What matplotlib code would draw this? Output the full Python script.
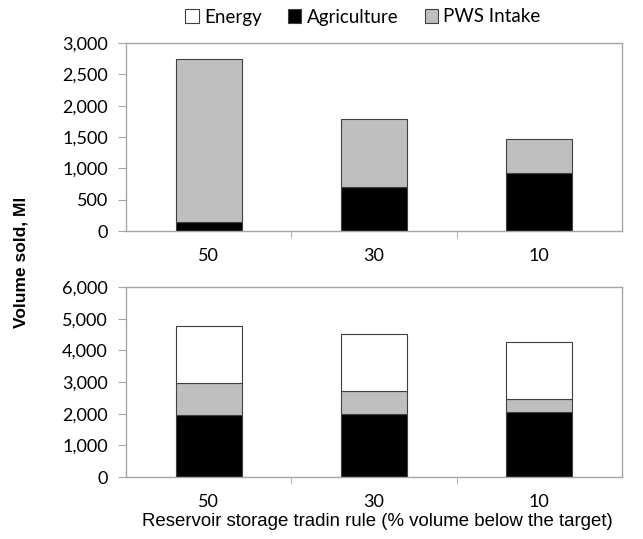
import matplotlib
matplotlib.use('Agg')
import numpy as np
import matplotlib.pyplot as plt
from matplotlib.patches import Patch
from matplotlib.ticker import FuncFormatter

rules = ['50', '30', '10']
# top panel
agri_top = [150, 710, 930]
pws_top = [2600, 1070, 540]
# bottom panel
agri_bot = [1950, 2000, 2040]
pws_bot = [1010, 720, 410]
energy_bot = [1810, 1800, 1810]

plt.rcParams['font.family'] = ['Lato', 'DejaVu Sans']

fig = plt.figure(figsize=(6.43, 5.39), dpi=100)
ax1 = fig.add_axes([126/643, 1 - 231/539, 496/643, 188/539])
ax2 = fig.add_axes([126/643, 1 - 477/539, 496/643, 190/539])

edge = '#404040'
grey = '#bfbfbf'
spine_c = '#a6a6a6'
x = np.arange(len(rules))
w = 0.4

ax1.bar(x, agri_top, w, color='black', edgecolor=edge, lw=0.8)
ax1.bar(x, pws_top, w, bottom=agri_top, color=grey, edgecolor=edge, lw=0.8)

b2 = np.array(agri_bot) + np.array(pws_bot)
ax2.bar(x, agri_bot, w, color='black', edgecolor=edge, lw=0.8)
ax2.bar(x, pws_bot, w, bottom=agri_bot, color=grey, edgecolor=edge, lw=0.8)
ax2.bar(x, energy_bot, w, bottom=b2, color='white', edgecolor=edge, lw=0.8)

fmt = FuncFormatter(lambda v, p: f'{int(v):,}')
for ax, top, step in [(ax1, 3000, 500), (ax2, 6000, 1000)]:
    ax.set_xlim(-0.5, 2.5)
    ax.set_ylim(0, top)
    ax.set_yticks(np.arange(0, top + 1, step))
    ax.yaxis.set_major_formatter(fmt)
    ax.set_xticks(x)
    ax.set_xticklabels(rules)
    ax.set_xticks([0.5, 1.5], minor=True)
    ax.tick_params(axis='x', which='major', length=0, pad=12, labelsize=13)
    ax.tick_params(axis='x', which='minor', length=5, color=spine_c, direction='out')
    ax.tick_params(axis='y', length=6, color=spine_c, direction='out', labelsize=13, pad=7)
    for s in ax.spines.values():
        s.set_color(spine_c)
        s.set_linewidth(1)

fig.text(21/643, 1 - 262/539, 'Volume sold, Ml', rotation=90, ha='center', va='center',
         fontsize=12.5, fontweight='bold', family=['Liberation Sans', 'DejaVu Sans'])
fig.text(377/643, 1 - 521/539, 'Reservoir storage tradin rule (% volume below the target)',
         ha='center', va='center', fontsize=13.4, family=['Liberation Sans', 'DejaVu Sans'])

handles = [Patch(facecolor='white', edgecolor=edge, lw=0.8, label='Energy'),
           Patch(facecolor='black', edgecolor=edge, lw=0.8, label='Agriculture'),
           Patch(facecolor=grey, edgecolor=edge, lw=0.8, label='PWS Intake')]
fig.legend(handles=handles, loc='center', bbox_to_anchor=(363/643, 1 - 17/539), ncol=3,
           frameon=False, fontsize=13.5, handlelength=0.7, handleheight=0.7,
           handletextpad=0.3, columnspacing=1.4)

fig.savefig('out.png', dpi=100)
